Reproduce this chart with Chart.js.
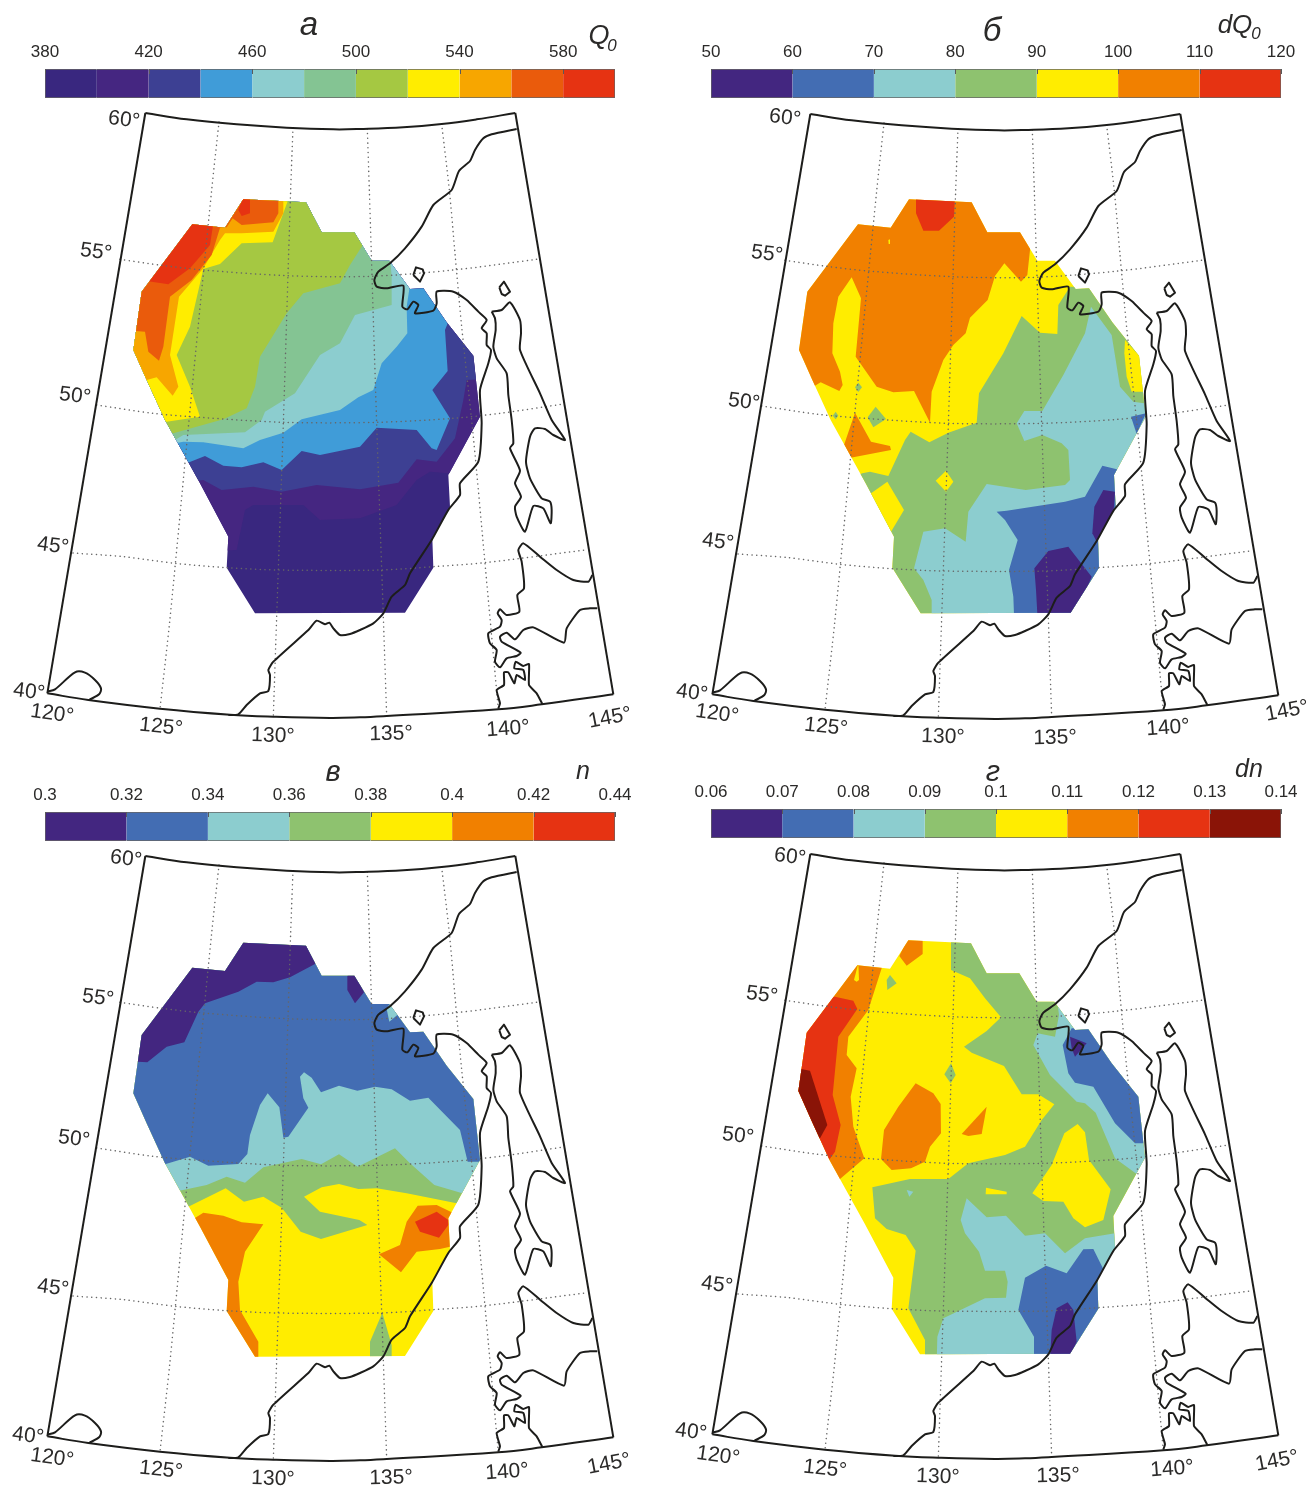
<!DOCTYPE html>
<html>
<head>
<meta charset="utf-8">
<title>Q0, dQ0, n, dn</title>
<script src="https://cdn.jsdelivr.net/npm/chart.js@4/dist/chart.umd.min.js"></script>
<style>
  html, body { margin: 0; padding: 0; background: #fff; overflow: hidden; }
  #page { position: relative; width: 1309px; height: 1487px; overflow: hidden; }
  canvas { position: absolute; display: block; }
</style>
</head>
<body>
<div id="page"></div>
<script>
// colour scale levels and the tick labels printed over each bar
const levelsA = [380, 400, 420, 440, 460, 480, 500, 520, 540, 560, 580, 600];
const ticksA = [380, 420, 460, 500, 540, 580];
const levelsB = [50, 60, 70, 80, 90, 100, 110, 120];
const ticksB = [50, 60, 70, 80, 90, 100, 110, 120];
const levelsC = [0.3, 0.32, 0.34, 0.36, 0.38, 0.4, 0.42, 0.44];
const ticksC = [0.3, 0.32, 0.34, 0.36, 0.38, 0.4, 0.42, 0.44];
const levelsD = [0.06, 0.07, 0.08, 0.09, 0.1, 0.11, 0.12, 0.13, 0.14];
const ticksD = [0.06, 0.07, 0.08, 0.09, 0.1, 0.11, 0.12, 0.13, 0.14];

const coloursA = ['#39277f', '#452681', '#3d4093', '#409cd8', '#8ccdcf', '#84c493', '#a5c842', '#ffed00', '#f7a600', '#ea5b0c', '#e63312'];
const coloursB = ['#432680', '#436db3', '#8ccdcf', '#8ec26f', '#ffed00', '#f18000', '#e63312'];
const coloursD = ['#432680', '#436db3', '#8ccdcf', '#8ec26f', '#ffed00', '#f18000', '#e63312', '#8a1407'];

const latNames = ['60°', '55°', '50°', '45°', '40°'];
const lonNames = ['120°', '125°', '130°', '135°', '140°', '145°'];

// map plane units, 3 units to a pixel
const frameTop = [[76, -231], [200, -212], [350, -197], [500, -187], [640, -182], [720, -183], [850, -188], [965, -198], [1070, -212], [1186, -231]];
const frameBottom = [[1480, 1513], [1265, 1543], [1135, 1558], [800, 1578], [720, 1582], [630, 1584], [460, 1580], [330, 1574], [120, 1556], [-95, 1530], [-218, 1510]];
const frameRight = [[1186, -231], [1480, 1513]];
const frameLeft = [[-218, 1510], [76, -231]];
const parallel55 = [[0, 208], [125, 226], [250, 240], [500, 257], [750, 259], [1000, 240], [1250, 208]];
const parallel50 = [[-70, 645], [100, 670], [240, 682], [490, 697], [770, 697], [1000, 685], [1140, 670], [1330, 642]];
const parallel45 = [[-141, 1089], [10, 1100], [165, 1120], [320, 1133], [475, 1140], [785, 1140], [940, 1130], [1095, 1118], [1395, 1080]];
const meridian125 = [[297, -204], [275, 0], [210, 660], [150, 1285], [120, 1556]];
const meridian130 = [[519, -187], [512, 0], [490, 700], [470, 1280], [460, 1580]];
const meridian135 = [[742, -183], [748, 0], [770, 700], [790, 1280], [800, 1578]];
const meridian140 = [[965, -198], [988, 0], [1005, 190], [1025, 410], [1060, 740], [1095, 1120], [1135, 1558]];

const coastMain = [[1190, -183], [1115, -167], [1090, -155], [1065, -120], [1050, -87], [1017, -57], [995, 0], [940, 45], [905, 110], [855, 175], [810, 220], [775, 245], [763, 270], [770, 290], [800, 295], [850, 287], [847, 350], [862, 358], [880, 335], [895, 345], [885, 370], [940, 362], [950, 340], [950, 305], [1000, 305], [1040, 330], [1075, 365], [1100, 390], [1085, 415], [1100, 430], [1100, 465], [1113, 480], [1105, 520], [1080, 600], [1085, 700], [1075, 815], [1020, 880], [1020, 915], [985, 960], [935, 1050], [870, 1150], [855, 1185], [815, 1220], [790, 1270], [760, 1300], [720, 1320], [690, 1332], [660, 1335], [640, 1315], [628, 1298], [615, 1303], [590, 1292], [565, 1320], [460, 1415], [445, 1440], [450, 1455], [445, 1503], [420, 1510], [380, 1545], [355, 1573], [325, 1575]];
const coastSakhalin = [[1115, 365], [1125, 385], [1127, 420], [1120, 470], [1130, 505], [1160, 550], [1165, 615], [1175, 690], [1180, 760], [1170, 775], [1200, 842], [1185, 880], [1203, 920], [1185, 950], [1190, 980], [1215, 1025], [1240, 948], [1270, 955], [1292, 1000], [1295, 960], [1290, 935], [1265, 925], [1230, 865], [1218, 815], [1230, 740], [1245, 715], [1275, 717], [1300, 735], [1335, 750], [1295, 690], [1260, 610], [1200, 480], [1203, 430], [1200, 390], [1170, 337], [1145, 360], [1115, 365]];
const coastHokkaido = [[1417, 1155], [1405, 1175], [1360, 1170], [1310, 1140], [1260, 1100], [1210, 1060], [1195, 1080], [1205, 1115], [1212, 1195], [1192, 1215], [1198, 1265], [1160, 1275], [1140, 1258], [1133, 1270], [1145, 1290], [1140, 1310], [1105, 1330], [1110, 1360], [1130, 1380], [1125, 1415], [1140, 1432], [1160, 1405], [1190, 1398], [1202, 1388], [1145, 1355], [1140, 1340], [1160, 1328], [1185, 1348], [1210, 1320], [1240, 1312], [1332, 1358], [1340, 1315], [1380, 1260], [1410, 1255], [1432, 1255]];
const coastHonshu = [[1135, 1555], [1140, 1540], [1130, 1500], [1152, 1485], [1152, 1447], [1165, 1447], [1183, 1480], [1190, 1455], [1215, 1470], [1210, 1440], [1183, 1435], [1187, 1415], [1210, 1428], [1227, 1422], [1227, 1485], [1250, 1510], [1267, 1542]];
const coastLake = [[-218, 1505], [-195, 1498], [-135, 1447], [-105, 1448], [-75, 1470], [-57, 1495], [-62, 1512], [-93, 1530]];
const islandOne = [[880, 255], [888, 232], [908, 238], [912, 250], [900, 275], [880, 255]];
const islandTwo = [[1138, 292], [1152, 275], [1170, 305], [1155, 317], [1145, 312], [1138, 292]];

// edge of the contoured area
const outline = [[370, 28], [558, 37], [605, 127], [703, 127], [755, 212], [808, 212], [870, 297], [910, 295], [980, 397], [1060, 497], [1080, 680], [985, 855], [990, 950], [937, 1045], [940, 1133], [855, 1268], [405, 1270], [320, 1133], [325, 1040], [240, 880], [135, 690], [80, 570], [40, 480], [65, 305], [217, 103], [315, 113]];

// contour areas, painted in order: [colour index, outline points]
const regionsA = [
  [0, [[-100, -100], [1300, -100], [1300, 1400], [-100, 1400]]],
  [1, [[0, 1100], [350, 1080], [375, 960], [400, 945], [550, 945], [600, 990], [720, 985], [830, 945], [890, 870], [930, 845], [1100, 860], [1200, 0], [0, 0]]],
  [2, [[0, 900], [250, 870], [305, 900], [400, 890], [485, 905], [590, 885], [720, 898], [835, 878], [890, 808], [950, 815], [1005, 745], [1030, 630], [1040, 570], [1120, 565], [1200, 0], [0, 0]]],
  [3, [[0, 860], [200, 820], [255, 798], [310, 827], [365, 832], [430, 817], [485, 840], [545, 783], [600, 795], [720, 770], [770, 713], [890, 720], [935, 775], [950, 780], [990, 685], [937, 600], [983, 543], [975, 420], [985, 395], [1100, 300], [1100, 0], [0, 0]]],
  [4, [[0, 790], [190, 755], [250, 757], [370, 775], [420, 750], [490, 728], [545, 688], [660, 660], [715, 622], [760, 600], [785, 520], [830, 470], [862, 430], [860, 350], [868, 297], [900, 200], [900, 0], [0, 0]]],
  [5, [[0, 760], [165, 750], [190, 735], [375, 727], [425, 690], [435, 665], [525, 610], [600, 495], [660, 460], [705, 375], [815, 345], [815, 260], [810, 200], [800, 0], [0, 0]]],
  [6, [[0, 745], [160, 730], [310, 688], [380, 655], [405, 590], [420, 500], [500, 370], [550, 310], [660, 280], [690, 225], [725, 170], [760, 100], [700, 0], [0, 0]]],
  [7, [[0, 700], [140, 695], [240, 680], [210, 590], [170, 495], [210, 410], [250, 237], [300, 222], [365, 160], [458, 157], [508, 20], [0, 0]]],
  [8, [[0, 600], [80, 570], [110, 562], [158, 617], [175, 590], [150, 495], [177, 320], [250, 235], [300, 150], [315, 130], [365, 130], [460, 125], [490, 70], [490, 0], [0, 0]]],
  [9, [[0, 420], [75, 425], [85, 485], [117, 512], [130, 470], [150, 320], [215, 270], [275, 195], [300, 113], [320, 112], [338, 85], [365, 105], [460, 97], [475, 70], [475, 0], [0, 0]]],
  [10, [[60, 270], [145, 283], [210, 235], [270, 165], [280, 100], [200, 90]]],
  [10, [[370, 20], [390, 20], [390, 70], [365, 78], [355, 60]]]
];

const regionsB = [
  [4, [[-100, -100], [1300, -100], [1300, 1400], [-100, 1400]]],
  [5, [[0, 620], [75, 587], [92, 577], [148, 603], [158, 585], [150, 545], [127, 490], [130, 400], [145, 320], [185, 262], [213, 325], [197, 500], [260, 590], [310, 607], [372, 603], [420, 698], [425, 605], [460, 510], [490, 465], [527, 430], [540, 383], [593, 330], [615, 258], [643, 220], [693, 275], [712, 255], [720, 180], [740, 0], [0, 0]]],
  [6, [[378, 20], [378, 70], [400, 122], [447, 122], [492, 80], [495, 20]]],
  [4, [[295, 150], [300, 148], [300, 162], [296, 162]]],
  [5, [[195, 668], [243, 755], [300, 768], [303, 780], [182, 803], [162, 765]]],
  [3, [[205, 578], [216, 592], [205, 606], [195, 592]]],
  [3, [[137, 665], [145, 677], [137, 688], [128, 677]]],
  [3, [[257, 650], [288, 687], [250, 712], [233, 682]]],
  [3, [[190, 860], [217, 850], [240, 845], [295, 858], [345, 750], [362, 725], [418, 757], [475, 728], [560, 698], [567, 610], [640, 490], [695, 378], [750, 428], [802, 432], [805, 345], [840, 290], [1200, 290], [1200, 1400], [0, 1400], [0, 1300]]],
  [4, [[240, 912], [292, 875], [342, 960], [303, 1025], [200, 1000]]],
  [4, [[468, 842], [490, 875], [468, 905], [437, 872]]],
  [4, [[1005, 450], [1050, 500], [1060, 605], [1025, 605], [1010, 560], [1003, 490]]],
  [2, [[372, 1135], [400, 1025], [465, 1015], [527, 1055], [535, 965], [590, 882], [707, 900], [825, 885], [840, 870], [835, 780], [815, 760], [757, 735], [703, 753], [680, 700], [703, 663], [757, 663], [820, 555], [885, 430], [903, 350], [965, 435], [990, 590], [1030, 635], [1062, 640], [1075, 670], [1100, 800], [1100, 1300], [423, 1300], [425, 1230], [400, 1170]]],
  [1, [[620, 965], [650, 962], [825, 935], [885, 920], [937, 827], [990, 840], [1000, 1300], [673, 1300], [670, 1220], [657, 1140], [683, 1050], [645, 990]]],
  [1, [[1023, 680], [1068, 670], [1040, 732]]],
  [0, [[907, 1030], [920, 1055], [970, 975], [975, 905], [940, 900], [913, 950]]],
  [0, [[733, 1135], [775, 1083], [835, 1070], [905, 1160], [850, 1290], [743, 1290], [738, 1200]]]
];

const regionsC = [
  [4, [[-100, -100], [1300, -100], [1300, 1400], [-100, 1400]]],
  [5, [[220, 852], [250, 833], [310, 842], [365, 862], [430, 868], [375, 950], [355, 1040], [360, 1125], [415, 1220], [415, 1290], [200, 1290], [150, 900]]],
  [5, [[777, 958], [840, 930], [860, 860], [893, 812], [950, 810], [995, 832], [990, 935], [960, 942], [890, 950], [843, 1012]]],
  [6, [[885, 860], [950, 830], [985, 855], [985, 870], [957, 908], [900, 890]]],
  [3, [[750, 1220], [787, 1133], [815, 1230], [815, 1290], [750, 1290]]],
  [3, [[0, 815], [205, 815], [317, 760], [372, 800], [430, 785], [485, 818], [542, 890], [603, 912], [742, 870], [718, 855], [600, 830], [552, 785], [605, 757], [657, 747], [715, 762], [770, 760], [860, 775], [1010, 805], [1200, 810], [1200, 0], [0, 0]]],
  [2, [[0, 770], [175, 768], [260, 750], [320, 725], [375, 743], [430, 697], [545, 672], [603, 688], [657, 658], [713, 695], [825, 640], [870, 685], [943, 750], [1027, 775], [1200, 780], [1200, 0], [0, 0]]],
  [1, [[0, 690], [135, 688], [210, 665], [265, 692], [355, 687], [382, 657], [390, 600], [420, 510], [443, 475], [478, 517], [490, 608], [505, 605], [565, 518], [550, 490], [540, 425], [552, 412], [575, 428], [603, 472], [657, 452], [712, 467], [765, 455], [815, 463], [870, 497], [925, 488], [1020, 585], [1043, 680], [1200, 680], [1200, 0], [0, 0]]],
  [0, [[0, 380], [53, 380], [82, 382], [140, 335], [193, 322], [235, 230], [255, 205], [355, 170], [410, 140], [460, 142], [510, 127], [585, 87], [600, 0], [0, 0]]],
  [0, [[682, 122], [682, 165], [705, 205], [732, 172], [703, 110]]],
  [2, [[800, 222], [810, 205], [832, 240], [808, 260]]]
];

const regionsD = [
  [4, [[-100, -100], [1300, -100], [1300, 1400], [-100, 1400]]],
  [5, [[165, 747], [238, 685], [205, 590], [197, 500], [215, 415], [185, 375], [190, 320], [250, 240], [290, 115], [300, 50], [0, 50], [0, 800]]],
  [4, [[207, 150], [220, 100], [222, 150], [215, 155]]],
  [6, [[150, 200], [205, 212], [217, 237], [160, 320], [143, 495], [167, 585], [150, 665], [132, 690], [0, 690], [0, 200]]],
  [7, [[48, 417], [75, 422], [127, 585], [105, 625], [0, 600], [0, 417]]],
  [5, [[370, 20], [413, 20], [413, 72], [365, 107], [343, 78]]],
  [5, [[392, 460], [445, 490], [467, 522], [468, 610], [435, 650], [420, 695], [378, 715], [320, 720], [288, 687], [297, 600], [340, 530]]],
  [5, [[605, 530], [590, 612], [550, 618], [530, 612]]],
  [3, [[498, 0], [498, 120], [555, 145], [600, 205], [648, 262], [605, 303], [537, 350], [560, 368], [657, 408], [710, 493], [760, 493], [808, 523], [770, 570], [720, 650], [660, 675], [550, 700], [490, 747], [375, 747], [262, 772], [270, 865], [305, 897], [362, 915], [392, 962], [370, 1135], [420, 1230], [420, 1300], [1200, 1300], [1200, 0]]],
  [3, [[305, 150], [315, 135], [335, 160], [307, 180]]],
  [3, [[498, 400], [512, 435], [497, 460], [478, 433]]],
  [4, [[878, 582], [900, 607], [912, 690], [977, 778], [955, 870], [900, 892], [865, 865], [835, 815], [775, 813], [742, 790], [800, 705], [838, 610]]],
  [4, [[603, 773], [665, 785], [665, 793], [602, 793]]],
  [2, [[365, 780], [385, 785], [373, 800]]],
  [2, [[745, 345], [758, 310], [810, 320], [822, 255], [815, 200], [1200, 200], [1200, 640], [1055, 732], [990, 685], [932, 548], [900, 520], [875, 515], [795, 435]]],
  [1, [[833, 345], [850, 430], [870, 458], [925, 470], [990, 580], [1050, 640], [1200, 640], [1200, 295], [860, 295]]],
  [0, [[855, 320], [905, 340], [870, 380], [860, 355]]],
  [2, [[545, 805], [605, 862], [663, 857], [720, 917], [780, 910], [840, 970], [900, 925], [990, 910], [1100, 1000], [1100, 1300], [455, 1300], [457, 1220], [475, 1165], [600, 1105], [663, 1103], [668, 1055], [660, 1022], [600, 1022], [582, 965], [540, 910], [527, 870]]],
  [1, [[700, 1140], [720, 1043], [783, 1007], [845, 1030], [895, 958], [925, 957], [953, 1013], [1000, 1100], [950, 1300], [748, 1300], [747, 1220]]],
  [0, [[815, 1135], [848, 1117], [865, 1140], [875, 1235], [850, 1290], [795, 1290], [800, 1200]]]
];

const textFont = '"Liberation Sans", Arial, sans-serif';
const inkColour = '#2b2a29';
const W = 644, H = 744;

const page = document.getElementById('page');

function addCanvas(left, top, width, height) {
  const c = document.createElement('canvas');
  c.width = width;
  c.height = height;
  c.style.left = left + 'px';
  c.style.top = top + 'px';
  c.style.width = width + 'px';
  c.style.height = height + 'px';
  page.appendChild(c);
  return c;
}

function toPoints(pts, shift) {
  return pts.map(p => ({ x: p[0] + shift[0], y: p[1] + shift[1] }));
}

function lineSet(pts, colour, width, dash, tension) {
  return {
    data: toPoints(pts, [0, 0]),
    showLine: true,
    fill: false,
    tension: tension || 0,
    borderColor: colour,
    borderWidth: width,
    borderDash: dash || [],
    borderJoinStyle: 'round',
    borderCapStyle: dash ? 'round' : 'butt',
    pointRadius: 0
  };
}

// panel: left/top of its canvas, shift of its contour points, texts in page pixels
function drawMap(panel) {
  const ink = '#1d1d1b';
  const baseSets = [
    lineSet(frameTop, ink, 2, null, 0.4),
    lineSet(frameBottom, ink, 2, null, 0.4),
    lineSet(frameRight, ink, 2),
    lineSet(frameLeft, ink, 2),
    lineSet(coastMain, ink, 2, null, 0.2),
    lineSet(coastSakhalin, ink, 2, null, 0.2),
    lineSet(coastHokkaido, ink, 2, null, 0.2),
    lineSet(coastHonshu, ink, 2, null, 0.15),
    lineSet(coastLake, ink, 2, null, 0.3),
    lineSet(islandOne, ink, 2),
    lineSet(islandTwo, ink, 2)
  ];
  [parallel55, parallel50, parallel45, meridian125, meridian130, meridian135, meridian140].forEach(g => {
    baseSets.push(lineSet(g, '#666666', 1.5, [0.1, 4.6], 0.3));
  });

  // first dataset ends up on top, so the painted order is reversed here
  const areaSets = panel.regions.map(r => ({
    data: toPoints(r[1], panel.shift),
    showLine: true,
    fill: 'shape',
    backgroundColor: panel.colours[r[0]],
    borderColor: 'transparent',
    borderWidth: 0,
    pointRadius: 0
  })).reverse();

  const clipPlugin = {
    id: 'clipToOutline',
    beforeDraw(chart) {
      const { ctx, scales } = chart;
      ctx.save();
      ctx.beginPath();
      outline.forEach((p, i) => {
        const x = scales.x.getPixelForValue(p[0] + panel.outlineShift[0] + panel.shift[0]);
        const y = scales.y.getPixelForValue(p[1] + panel.outlineShift[1] + panel.shift[1]);
        if (i === 0) ctx.moveTo(x, y); else ctx.lineTo(x, y);
      });
      ctx.closePath();
      ctx.clip();
    },
    beforeDatasetsDraw(chart) {
      chart.ctx.restore();
    }
  };

  const textPlugin = {
    id: 'mapTexts',
    afterDraw(chart) {
      const ctx = chart.ctx;
      panel.texts.forEach(t => {
        ctx.save();
        ctx.translate(t.x - panel.left, t.y - panel.top);
        ctx.rotate((t.rot || 0) * Math.PI / 180);
        ctx.font = (t.italic ? 'italic ' : '') + t.size + 'px ' + textFont;
        ctx.fillStyle = inkColour;
        ctx.textAlign = 'center';
        ctx.textBaseline = 'middle';
        ctx.fillText(t.text, 0, 0);
        ctx.restore();
      });
    }
  };

  new Chart(addCanvas(panel.left, panel.top, W, H), {
    type: 'scatter',
    data: { datasets: baseSets.concat(areaSets) },
    options: {
      responsive: false,
      animation: false,
      events: [],
      layout: { padding: 0 },
      scales: {
        x: { type: 'linear', display: false, min: -360, max: -360 + W * 3 },
        y: { type: 'linear', display: false, reverse: true, min: -570, max: -570 + H * 3 }
      },
      plugins: {
        legend: { display: false },
        tooltip: { enabled: false },
        filler: { drawTime: 'beforeDatasetsDraw' }
      }
    },
    plugins: [clipPlugin, textPlugin]
  });
}

function drawScale(left, top, levels, tickValues, colours) {
  const pad = 30;
  const tickMarks = {
    id: 'tickMarks',
    afterDatasetsDraw(chart) {
      const { ctx, chartArea, scales } = chart;
      ctx.save();
      ctx.strokeStyle = '#5a5a5a';
      ctx.lineWidth = 1;
      tickValues.forEach(v => {
        const x = Math.round(scales.x.getPixelForValue(v)) + 0.5;
        ctx.beginPath();
        ctx.moveTo(x, chartArea.top);
        ctx.lineTo(x, chartArea.top + 5);
        ctx.stroke();
      });
      ctx.restore();
    }
  };
  new Chart(addCanvas(left - pad, top - 30, 570 + pad * 2, 60), {
    type: 'bar',
    data: {
      labels: [''],
      datasets: colours.map((c, i) => ({
        data: [[levels[i], levels[i + 1]]],
        backgroundColor: c,
        borderColor: '#666',
        borderSkipped: false,
        borderWidth: { top: 1, bottom: 1, left: i === 0 ? 1 : 0, right: i === colours.length - 1 ? 1 : 0 },
        grouped: false,
        barPercentage: 1,
        categoryPercentage: 1
      }))
    },
    options: {
      indexAxis: 'y',
      responsive: false,
      animation: false,
      events: [],
      layout: { padding: { left: pad, right: pad, top: 0, bottom: 1 } },
      scales: {
        y: { display: false },
        x: {
          type: 'linear',
          position: 'top',
          min: levels[0],
          max: levels[levels.length - 1],
          afterBuildTicks(scale) { scale.ticks = tickValues.map(v => ({ value: v })); },
          afterFit(scale) { scale.height = 30; },
          grid: { display: false, drawTicks: false },
          border: { display: false },
          ticks: {
            autoSkip: false,
            maxRotation: 0,
            padding: 6,
            color: inkColour,
            font: { family: textFont, size: 17 },
            callback: v => String(v)
          }
        }
      },
      plugins: { legend: { display: false }, tooltip: { enabled: false } }
    },
    plugins: [tickMarks]
  });
}

function geoTexts(latPos, lonPos) {
  const out = [];
  latNames.forEach((n, i) => out.push({ text: n, x: latPos[i][0], y: latPos[i][1] + 2, size: 21, rot: 7 }));
  const lonRot = [8, 6, 2, -1, -4, -11];
  lonNames.forEach((n, i) => out.push({ text: n, x: lonPos[i][0], y: lonPos[i][1] + 2, size: 21, rot: lonRot[i] }));
  return out;
}

drawMap({
  left: 0, top: 0, shift: [0, 0], outlineShift: [0, 0], regions: regionsA, colours: coloursA,
  texts: geoTexts(
    [[124, 118], [96, 250], [75, 394], [53, 544], [29, 690]],
    [[52, 712], [161, 725], [273, 734], [391, 732], [508, 727], [610, 716]]
  ).concat([
    { text: 'а', x: 309, y: 26, size: 33, italic: true },
    { text: 'Q', x: 599, y: 36, size: 27, italic: true },
    { text: '0', x: 612, y: 46, size: 17, italic: true }
  ])
});
drawMap({
  left: 665, top: 1, shift: [15, -3], outlineShift: [-13, 0], regions: regionsB, colours: coloursB,
  texts: geoTexts(
    [[785, 116], [767, 252], [744, 400], [718, 540], [692, 691]],
    [[717, 712], [826, 725], [943, 735], [1055, 736], [1168, 726], [1287, 709]]
  ).concat([
    { text: 'б', x: 992, y: 32, size: 33, italic: true },
    { text: 'dQ', x: 1235, y: 26, size: 26, italic: true },
    { text: '0', x: 1256, y: 34, size: 17, italic: true }
  ])
});
drawMap({
  left: 0, top: 743, shift: [0, 6], outlineShift: [0, -5], regions: regionsC, colours: coloursB,
  texts: geoTexts(
    [[126, 857], [98, 996], [74, 1137], [53, 1286], [28, 1434]],
    [[52, 1456], [161, 1468], [273, 1477], [391, 1476], [507, 1470], [609, 1462]]
  ).concat([
    { text: 'в', x: 333, y: 773, size: 29, italic: true },
    { text: 'n', x: 583, y: 772, size: 25, italic: true }
  ])
});
drawMap({
  left: 665, top: 741, shift: [0, -3], outlineShift: [0, 3], regions: regionsD, colours: coloursD,
  texts: geoTexts(
    [[790, 855], [762, 993], [738, 1134], [717, 1283], [691, 1430]],
    [[718, 1454], [825, 1467], [938, 1475], [1058, 1474], [1172, 1467], [1277, 1459]]
  ).concat([
    { text: 'г', x: 993, y: 773, size: 29, italic: true },
    { text: 'dn', x: 1249, y: 770, size: 25, italic: true }
  ])
});

drawScale(45, 69, levelsA, ticksA, coloursA);
drawScale(711, 69, levelsB, ticksB, coloursB);
drawScale(45, 812, levelsC, ticksC, coloursB);
drawScale(711, 809, levelsD, ticksD, coloursD);
</script>
</body>
</html>
